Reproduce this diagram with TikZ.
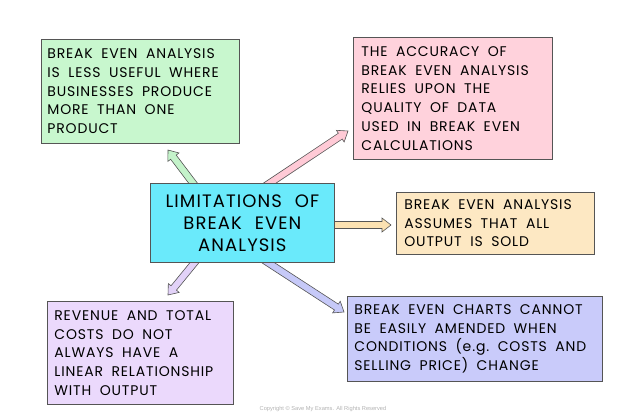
\documentclass[tikz,border=0pt]{standalone}
\usepackage{fontspec}
\setmainfont{Poppins}[LetterSpace=6]
\newfontfamily\notefont{Liberation Sans}
\usetikzlibrary{calc,backgrounds}
\newcommand\boxfont{\fontsize{14}{18.7}\selectfont\hyphenpenalty 10000\exhyphenpenalty 10000\relax}
\newcommand\hubfont{\fontsize{18}{22}\selectfont}
\newcommand\gap{\hspace*{8.5pt}}
\newcommand\hgap{\hspace*{13pt}}
\definecolor{edge}{HTML}{555555}
\definecolor{cgreen}{HTML}{C8F7CE}
\definecolor{cpink}{HTML}{FFD2DC}
\definecolor{cyellow}{HTML}{FDE8C3}
\definecolor{cblue}{HTML}{C9CBFA}
\definecolor{cpurple}{HTML}{EBD9FC}
\definecolor{ccyan}{HTML}{6AEAFB}
\definecolor{agreen}{HTML}{C4F3CA}
\definecolor{apink}{HTML}{FFCAD6}
\definecolor{ayellow}{HTML}{FCE2B2}
\definecolor{ablue}{HTML}{C6C9F8}
\definecolor{apurple}{HTML}{E2D2F8}
\tikzset{
  box/.style={draw=edge, line width=0.8pt, anchor=north west, inner xsep=8pt, inner ysep=0pt,
    align=left, font=\boxfont},
  hub/.style={draw=edge, line width=0.8pt, anchor=north west, inner sep=0pt,
    align=center, font=\hubfont, fill=ccyan},
  fat/.style={draw=edge, line width=0.6pt, line join=miter},
  note/.style={font=\notefont\fontsize{5.7}{7}\selectfont, text=gray!60}
}
\newcommand\fatarrow[3]{%
  \draw[fat, fill=#3] let \p1=(#1), \p2=(#2),
    \n1={atan2(\y2-\y1,\x2-\x1)},
    \n2={veclen(\x2-\x1,\y2-\y1)-9pt},
    \p3=($(\p1)+({\n1}:\n2)$) in
    ($(\p1)+({\n1+90}:3.5pt)$) -- ($(\p3)+({\n1+90}:3.5pt)$) -- ($(\p3)+({\n1+90}:7pt)$)
    -- (\p2) -- ($(\p3)+({\n1-90}:7pt)$) -- ($(\p3)+({\n1-90}:3.5pt)$)
    -- ($(\p1)+({\n1-90}:3.5pt)$) -- cycle;}
\begin{document}
\begin{tikzpicture}[x=1pt,y=-1pt]
\useasboundingbox (0,0) rectangle (643,417);

\node[hub, minimum width=184pt, minimum height=79pt, text width=184pt] (hubnode) at (150,183)
  {LIMITATIONS\hgap OF\\BREAK\hgap EVEN\\ANALYSIS};

\node[box, fill=cgreen, minimum width=198pt, minimum height=104pt, text width=186pt, inner xsep=6pt] (green) at (41,39)
  {BREAK\gap EVEN\gap ANALYSIS\\IS\gap LESS\gap USEFUL\gap WHERE\\BUSINESSES\gap PRODUCE\\MORE\gap THAN\gap ONE\\PRODUCT};
\node[box, fill=cpink, minimum width=199pt, minimum height=122pt, text width=183pt, inner xsep=8pt] (pink) at (353,37)
  {THE\gap ACCURACY\gap OF\\BREAK\gap EVEN\gap ANALYSIS\\RELIES\gap UPON\gap THE\\QUALITY\gap OF\gap DATA\\USED\gap IN\gap BREAK\gap EVEN\\CALCULATIONS};
\node[box, fill=cyellow, minimum width=198pt, minimum height=62pt, text width=182pt, inner xsep=8pt] (yellow) at (396,192)
  {BREAK\gap EVEN\gap ANALYSIS\\ASSUMES\gap THAT\gap ALL\\OUTPUT\gap IS\gap SOLD};
\node[box, fill=cblue, minimum width=255pt, minimum height=85pt, text width=241pt, inner xsep=7pt] (blue) at (347,296)
  {BREAK\gap EVEN\gap CHARTS\gap CANNOT\\BE\gap EASILY\gap AMENDED\gap WHEN\\CONDITIONS\gap (e.g.\gap COSTS\gap AND\\SELLING\gap PRICE)\gap CHANGE};
\node[box, fill=cpurple, minimum width=186pt, minimum height=103pt, text width=172pt, inner xsep=7pt] (purple) at (47,301)
  {REVENUE\gap AND\gap TOTAL\\COSTS\gap DO\gap NOT\\ALWAYS\gap HAVE\gap A\\LINEAR\gap RELATIONSHIP\\WITH\gap OUTPUT};

\coordinate (sgreen) at (199,191);   \coordinate (tgreen) at (168,150);
\coordinate (spink) at (261.7,188.5); \coordinate (tpink) at (348,131);
\coordinate (syellow) at (324,225);  \coordinate (tyellow) at (391,225);
\coordinate (sblue) at (258.6,256.5); \coordinate (tblue) at (344,312);
\coordinate (spurple) at (201.3,254.3); \coordinate (tpurple) at (168,295);

\begin{scope}[on background layer]
  \fatarrow{sgreen}{tgreen}{agreen}
  \fatarrow{spink}{tpink}{apink}
  \fatarrow{syellow}{tyellow}{ayellow}
  \fatarrow{sblue}{tblue}{ablue}
  \fatarrow{spurple}{tpurple}{apurple}
\end{scope}

\node[note] (copy) at (323,409) {Copyright \textcopyright{} Save My Exams. All Rights Reserved};
\end{tikzpicture}
\end{document}
